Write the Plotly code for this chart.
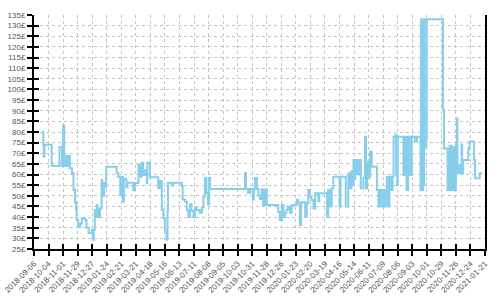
import pandas as pd
import plotly.graph_objects as go

start_date = "2018-09-06"
# days after start_date at which the price changed, and the new price (£)
day_offsets = [
    15, 18, 19, 20, 34, 49, 54, 56, 58, 62, 64, 67, 69, 73, 76, 79, 81, 82, 85, 89,
    92, 98, 101, 105, 111, 113, 115, 117, 119, 121, 122, 124, 126, 127, 130, 131, 132, 133, 135, 137,
    139, 159, 162, 166, 167, 169, 171, 173, 178, 180, 188, 191, 194, 201, 204, 207, 210, 214, 217, 218,
    223, 239, 242, 246, 249, 252, 255, 257, 258, 265, 268, 284, 286, 291, 294, 297, 300, 303, 307, 310,
    313, 319, 323, 326, 329, 332, 335, 337, 339, 406, 408, 412, 416, 421, 423, 425, 429, 432, 435, 438,
    441, 443, 445, 446, 448, 470, 473, 477, 480, 483, 486, 489, 493, 496, 506, 509, 512, 514, 518, 522,
    525, 528, 531, 534, 538, 541, 547, 549, 564, 566, 568, 570, 571, 573, 576, 586, 588, 590, 599, 600,
    605, 608, 611, 613, 615, 616, 618, 620, 622, 624, 626, 629, 634, 637, 639, 641, 645, 647, 650, 658,
    660, 663, 664, 668, 669, 673, 674, 678, 679, 683, 684, 688, 690, 692, 695, 697, 698, 699,
    700, 708, 711, 713, 717, 720, 724, 727, 733, 737, 743, 744, 745, 746, 747, 748, 749, 750, 751, 752,
    753, 754, 755, 756, 786, 787, 789, 795, 796, 798, 800, 801, 803, 804, 805, 807, 809, 810, 812, 814,
    815, 818, 820, 823, 824, 826, 833, 836, 838, 847, 849, 855, 858, 863,
]
prices = [
    80, 74, 68.4, 74, 64, 73, 64, 83, 64, 68.7, 64, 68.7, 63, 60.7, 52.7, 47, 43.3, 38.6, 35.5, 37,
    39.5, 38.6, 35, 32.5, 34, 29.3, 34, 43.3, 40, 45.7, 40, 44, 40, 44, 57.4, 50, 56, 50, 56, 54,
    63.7, 60.7, 59, 50.4, 58, 59, 47.2, 58, 54, 56.2, 56.2, 52.7, 56, 64.5, 59, 65.6, 59.8, 62, 56, 65.6,
    58.7, 53.5, 57, 43.3, 39.5, 34, 29.3, 43, 56.2, 54.8, 56.2, 54.6, 48.3, 47.2, 43.3, 40, 46, 43, 40, 44.5,
    43.3, 42, 44.5, 49.6, 58.4, 51.3, 46, 58.4, 53.2, 60.7, 53.2, 51.5, 53.2, 48.3, 53.2, 58.4, 53.2, 50, 48.5, 53,
    45.7, 53, 45.7, 53, 45.7, 42.5, 38.6, 45.7, 40, 42, 43.5, 45, 42, 45.7, 48, 46.5, 36.3, 47, 47, 40.2,
    46.5, 52.7, 49.5, 48, 44, 51.2, 47.5, 51.2, 40, 52.7, 45, 52.7, 45, 53.5, 59, 59, 45, 59, 59, 45,
    60.6, 53.5, 61.5, 55, 66.8, 58, 66.8, 60, 66.8, 60, 66.8, 53.5, 58.5, 77.8, 53.5, 66, 58.5, 70.7, 63.7, 63.7,
    52.7, 45, 52.7, 45, 52.7, 45, 52.7, 45, 59, 45, 59, 52.7, 59, 77.8, 78.5, 60, 78.5, 55,
    77.8, 77.8, 59.8, 77.8, 52.7, 77.8, 59.8, 77.8, 75.5, 77.8, 77.5, 52.7, 133, 52.7, 133, 52.7, 133, 55, 133, 73,
    77, 73, 77, 133, 133, 90.3, 72.3, 72.3, 52.7, 72.3, 73.5, 52.7, 73.5, 52.7, 72.3, 52.7, 73, 52.7, 74, 86.4,
    60.6, 64.5, 60.6, 74, 60.6, 66.8, 66.8, 72.3, 75.5, 66.8, 58.2, 58.2, 60.6, 60.6,
]
y_ticks = list(range(25, 136, 5))
y_tick_labels = [f"{v}£" for v in y_ticks]
x_start = "2018-09-06"
x_end = "2021-01-21"

dates = pd.Timestamp(start_date) + pd.to_timedelta(day_offsets, unit="D")
x_ticks = pd.date_range(x_start, x_end, freq="28D")
x_tick_labels = [d.strftime("%Y-%m-%d") for d in x_ticks]

fig = go.Figure()
fig.add_trace(go.Scatter(
    x=dates, y=prices, mode="lines", line=dict(color="#87CEEB", width=2, shape="hv"),
    showlegend=False, hoverinfo="skip",
))
# invisible trace for the overlay axes (ticks crossing the axis lines)
fig.add_trace(go.Scatter(
    x=[dates[0]], y=[prices[0]], xaxis="x2", yaxis="y2", mode="markers",
    marker=dict(opacity=0), showlegend=False, hoverinfo="skip",
))

font = dict(family="Liberation Sans, Arial, sans-serif", size=8, color="#555555")
grid = dict(showgrid=True, gridcolor="#c4c4c4", gridwidth=1, griddash="3px,3px")

fig.update_layout(
    width=500, height=300,
    margin=dict(l=34, r=15, t=15, b=51, autoexpand=False),
    paper_bgcolor="white", plot_bgcolor="white",
    font=font,
    xaxis=dict(
        range=[x_start, x_end], tickvals=x_ticks, ticktext=x_tick_labels,
        tickangle=-45, ticks="outside", ticklen=5, tickwidth=1.5, tickcolor="black",
        showline=True, linecolor="black", linewidth=2, zeroline=False, tickfont=font,
        automargin=False, **grid,
    ),
    yaxis=dict(
        range=[25, 135], tickvals=y_ticks, ticktext=y_tick_labels,
        ticks="outside", ticklen=5, tickwidth=1.5, tickcolor="black",
        showline=True, mirror=True, linecolor="black", linewidth=2, zeroline=False,
        tickfont=font, automargin=False, **grid,
    ),
    xaxis2=dict(
        overlaying="x", anchor="y", side="bottom", range=[x_start, x_end], tickvals=x_ticks,
        ticks="inside", ticklen=5, tickwidth=1.5, tickcolor="black", automargin=False,
        showticklabels=False, showgrid=False, showline=False, zeroline=False,
    ),
    yaxis2=dict(
        overlaying="y", anchor="x", side="left", range=[25, 135], tickvals=y_ticks,
        ticks="inside", ticklen=5, tickwidth=1.5, tickcolor="black", automargin=False,
        showticklabels=False, showgrid=False, showline=False, zeroline=False,
    ),
)

fig.write_html("out.html")
